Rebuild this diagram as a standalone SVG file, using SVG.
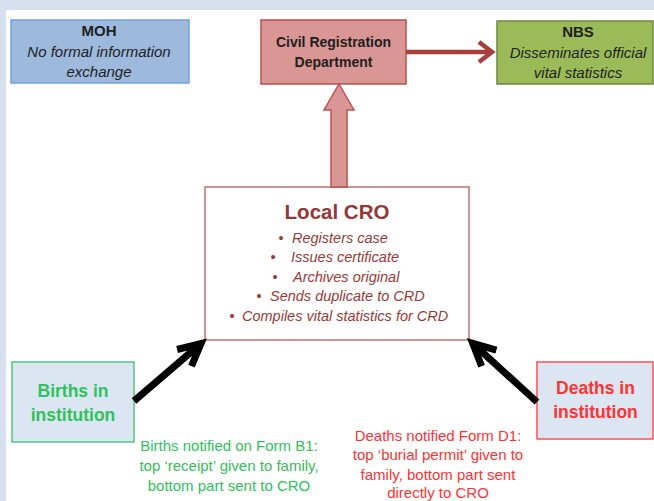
<svg xmlns="http://www.w3.org/2000/svg" width="654" height="501" viewBox="0 0 654 501">
  <style>
    text { font-family: "Liberation Sans", Arial, sans-serif; }
    .title { font-weight: bold; font-size: 15px; fill: #1e1e1e; text-anchor: middle; }
    .desc { font-style: italic; font-size: 15px; fill: #1e1e1e; text-anchor: middle; }
    .cro-title { font-weight: bold; font-size: 20.5px; fill: #953735; text-anchor: middle; }
    .bul { font-style: italic; font-size: 14.5px; fill: #9c3a38; }
    .dot { font-size: 14.5px; fill: #9c3a38; text-anchor: middle; }
    .src { font-weight: bold; font-size: 17.5px; text-anchor: middle; }
    .cap { font-size: 15px; text-anchor: middle; }
    .green { fill: #2fc25b; }
    .red { fill: #ff3333; }
    .blk-arrow { fill: none; stroke: #000000; stroke-width: 7; stroke-linejoin: miter; stroke-miterlimit: 10; }
    .red-arrow { fill: none; stroke: #a93f3c; stroke-width: 4.5; stroke-linejoin: miter; stroke-miterlimit: 10; }
  </style>
  <rect x="0" y="0" width="654" height="501" fill="#d6e0ee"/>
  <rect x="6" y="10" width="648" height="491" fill="#ffffff"/>

  <g id="moh">
    <rect x="11" y="20" width="178" height="63" fill="#9db9dc" stroke="#70a2de" stroke-width="1.5"/>
    <text class="title" x="99" y="36">MOH</text>
    <text class="desc" x="99" y="57">No formal information</text>
    <text class="desc" x="99" y="77">exchange</text>
  </g>

  <g id="crd">
    <rect x="261" y="20" width="145" height="64" fill="#d99694" stroke="#b9514e" stroke-width="1.5"/>
    <text class="title" x="333.5" y="47" style="font-size:14px">Civil Registration</text>
    <text class="title" x="333.5" y="67" style="font-size:14px">Department</text>
  </g>

  <g id="nbs">
    <rect x="497" y="21" width="156" height="63" fill="#9bbb59" stroke="#71893f" stroke-width="1.5"/>
    <text class="title" x="578" y="37">NBS</text>
    <text class="desc" x="578" y="58">Disseminates official</text>
    <text class="desc" x="578" y="78">vital statistics</text>
  </g>

  <g id="local-cro">
    <rect x="205" y="187" width="264" height="153" fill="#ffffff" stroke="#c0706e" stroke-width="1.5"/>
    <text class="cro-title" x="337" y="219">Local CRO</text>
    <text class="dot" x="281" y="243">•</text>
    <text class="bul" x="292" y="243">Registers case</text>
    <text class="dot" x="273" y="262">•</text>
    <text class="bul" x="291" y="262">Issues certificate</text>
    <text class="dot" x="275" y="282">•</text>
    <text class="bul" x="293" y="282">Archives original</text>
    <text class="dot" x="259" y="301">•</text>
    <text class="bul" x="270" y="301">Sends duplicate to CRD</text>
    <text class="dot" x="232" y="321">•</text>
    <text class="bul" x="242" y="321">Compiles vital statistics for CRD</text>
  </g>

  <g id="births">
    <rect x="12" y="362" width="122" height="80" fill="#dce6f2" stroke="#4ccb78" stroke-width="1.5"/>
    <text class="src green" x="73" y="397">Births in</text>
    <text class="src green" x="73" y="421">institution</text>
  </g>

  <g id="deaths">
    <rect x="537" y="362" width="116" height="77" fill="#dce6f2" stroke="#ff5050" stroke-width="1.5"/>
    <text class="src red" x="595.5" y="394">Deaths in</text>
    <text class="src red" x="595.5" y="418">institution</text>
  </g>

  <g id="births-caption">
    <text class="cap green" x="229" y="451">Births notified on Form B1:</text>
    <text class="cap green" x="229" y="471">top ‘receipt’ given to family,</text>
    <text class="cap green" x="229" y="491">bottom part sent to CRO</text>
  </g>

  <g id="deaths-caption">
    <text class="cap red" x="438" y="441">Deaths notified Form D1:</text>
    <text class="cap red" x="438" y="460">top ‘burial permit’ given to</text>
    <text class="cap red" x="438" y="480">family, bottom part sent</text>
    <text class="cap red" x="438" y="498">directly to CRO</text>
  </g>

  <g id="connectors">
    <polygon points="339,84 354,110 347,110 347,187 331,187 331,110 324,110" fill="#d99694" stroke="#c0504d" stroke-width="1.5" stroke-linejoin="miter"/>
    <path class="red-arrow" d="M406,52 L492,52 M479,42 L492,52 L479,62"/>
    <path class="blk-arrow" d="M134,401 L201,343.5 M177.1,349.5 L201,343.5 L191.5,366.1"/>
    <path class="blk-arrow" d="M537,402 L472.7,343.4 M496.4,350.1 L472.7,343.4 L481.6,366.3"/>
  </g>
</svg>
